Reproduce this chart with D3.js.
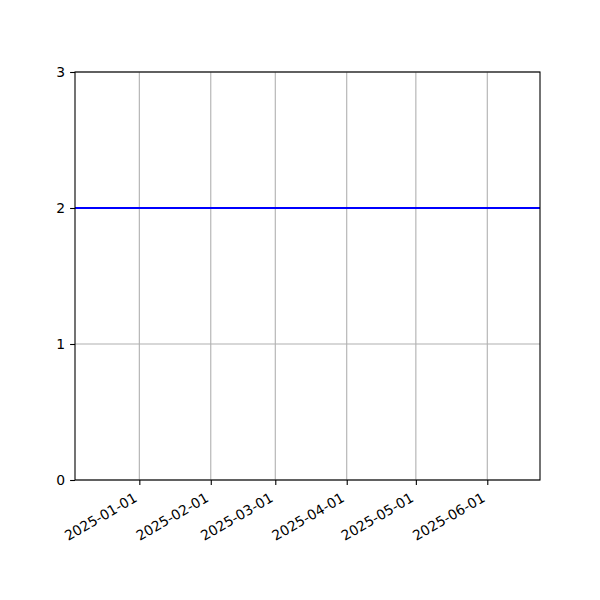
<!DOCTYPE html>
<html>
<head>
<meta charset="utf-8">
<script src="https://cdn.jsdelivr.net/npm/d3@7"></script>
<style>
    body { margin: 0; background: #fff; }
    text { font-family: "DejaVu Sans", sans-serif; }
</style>
</head>
<body>
<div id="container"></div>
<script>
const width = 600;
const height = 600;
const margin = { top: 72, right: 60, bottom: 120, left: 75 };

// data
const dates = ["2024-12-04T02:00", "2025-06-23T21:00"];
const values = [2, 2];
const xTicks = ["2025-01-01", "2025-02-01", "2025-03-01", "2025-04-01", "2025-05-01", "2025-06-01"];
const yTicks = [0, 1, 2, 3];

const parse = d3.isoParse;
const points = dates.map((d, i) => ({ date: parse(d), value: values[i] }));

const x = d3.scaleTime()
    .domain(d3.extent(points, (d) => d.date))
    .range([margin.left, width - margin.right]);
const y = d3.scaleLinear()
    .domain([0, 3])
    .range([height - margin.bottom, margin.top]);

const svg = d3.select("#container")
    .append("svg")
    .attr("width", width)
    .attr("height", height);

// grid
svg.append("g")
    .selectAll("line")
    .data(xTicks)
    .enter()
    .append("line")
    .attr("x1", (d) => x(parse(d)))
    .attr("x2", (d) => x(parse(d)))
    .attr("y1", margin.top)
    .attr("y2", height - margin.bottom)
    .style("stroke", "#b0b0b0")
    .style("stroke-width", 1.1);
svg.append("g")
    .selectAll("line")
    .data(yTicks)
    .enter()
    .append("line")
    .attr("x1", margin.left)
    .attr("x2", width - margin.right)
    .attr("y1", (d) => y(d))
    .attr("y2", (d) => y(d))
    .style("stroke", "#b0b0b0")
    .style("stroke-width", 1.1);

// line
svg.append("path")
    .datum(points)
    .attr("fill", "none")
    .attr("stroke", "#0000ff")
    .attr("stroke-width", 2.1)
    .attr("d", d3.line().x((d) => x(d.date)).y((d) => y(d.value)));

// axes
const xAxis = svg.append("g")
    .attr("transform", `translate(0,${height - margin.bottom})`)
    .call(d3.axisBottom(x).tickValues(xTicks.map(parse)).tickFormat(d3.timeFormat("%Y-%m-%d")).tickSize(4.9).tickSizeOuter(0));
xAxis.select(".domain").remove();
xAxis.selectAll("line").style("stroke", "#000").style("stroke-width", 1.1);
xAxis.selectAll("text")
    .attr("y", null)
    .attr("dy", null)
    .style("font-size", "13.9px")
    .style("fill", "#000")
    .attr("text-anchor", "end")
    .attr("transform", "translate(-1.7,20.7) rotate(-30)");

const yAxis = svg.append("g")
    .attr("transform", `translate(${margin.left},0)`)
    .call(d3.axisLeft(y).tickValues(yTicks).tickFormat(d3.format("d")).tickSize(4.9).tickPadding(4.9).tickSizeOuter(0));
yAxis.select(".domain").remove();
yAxis.selectAll("line").style("stroke", "#000").style("stroke-width", 1.1);
yAxis.selectAll("text").style("font-size", "13.9px").style("fill", "#000");

// frame
svg.append("rect")
    .attr("x", margin.left)
    .attr("y", margin.top)
    .attr("width", width - margin.left - margin.right)
    .attr("height", height - margin.top - margin.bottom)
    .style("fill", "none")
    .style("stroke", "#000")
    .style("stroke-width", 1.1);
</script>
</body>
</html>
